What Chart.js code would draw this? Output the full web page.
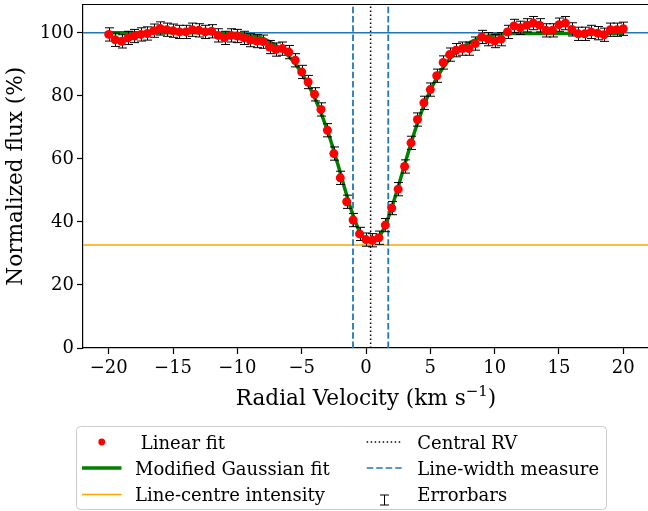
<!DOCTYPE html>
<html>
<head>
<meta charset="utf-8">
<script src="https://cdn.jsdelivr.net/npm/chart.js@4.4.0/dist/chart.umd.min.js"></script>
<style>
  html, body { margin: 0; padding: 0; background: #fff; }
  #wrap { width: 648px; height: 511px; overflow: hidden; position: relative; }
</style>
</head>
<body>
<div id="wrap"><canvas id="chart" width="660" height="511"></canvas></div>
<script>
// --- Line profile data (velocity in km/s, flux in % of continuum) ---
const velocity = [
  -20, -19.5, -19, -18.5, -18, -17.5, -17, -16.5, -16, -15.5,
  -15, -14.5, -14, -13.5, -13, -12.5, -12, -11.5, -11, -10.5,
  -10, -9.5, -9, -8.5, -8, -7.5, -7, -6.5, -6, -5.5,
  -5, -4.5, -4, -3.5, -3, -2.5, -2, -1.5, -1, -0.5,
  0, 0.5, 1, 1.5, 2, 2.5, 3, 3.5, 4, 4.5,
  5, 5.5, 6, 6.5, 7, 7.5, 8, 8.5, 9, 9.5,
  10, 10.5, 11, 11.5, 12, 12.5, 13, 13.5, 14, 14.5,
  15, 15.5, 16, 16.5, 17, 17.5, 18, 18.5, 19, 19.5, 20
];
const flux = [
  99.5, 97.8, 97.3, 98.4, 99.0, 99.5, 99.8, 100.7, 101.4, 101.0,
  100.7, 100.3, 100.3, 101.0, 100.8, 100.3, 100.5, 99.2, 98.4, 99.2,
  99.0, 98.4, 97.7, 97.4, 97.2, 95.5, 94.7, 95.0, 93.9, 91.3,
  87.6, 84.4, 80.5, 75.7, 69.1, 61.7, 54.0, 46.4, 40.6, 36.2,
  34.4, 34.2, 35.0, 39.0, 44.4, 50.4, 57.6, 65.1, 72.5, 77.8,
  82.0, 86.4, 90.6, 93.1, 94.5, 95.0, 95.0, 96.6, 98.7, 98.0,
  97.4, 98.0, 100.3, 102.2, 101.6, 102.4, 103.1, 102.4, 100.8, 100.8,
  102.6, 103.1, 101.1, 99.7, 99.7, 100.3, 99.9, 99.4, 101.0, 101.0, 101.3
];
const fitFlux = [
  100.0, 100.0, 100.0, 100.0, 100.0, 100.0, 100.0, 100.0, 100.0, 100.0,
  100.0, 100.0, 100.0, 100.0, 100.0, 100.0, 99.9, 99.9, 99.9, 99.9,
  99.8, 99.6, 99.3, 98.9, 98.2, 97.2, 96.0, 94.5, 92.6, 90.2,
  87.2, 83.6, 79.5, 74.6, 69.0, 62.6, 55.6, 48.5, 42.0, 37.0,
  34.2, 33.7, 35.2, 38.9, 44.5, 51.1, 58.1, 65.0, 71.3, 76.9,
  81.7, 85.7, 89.0, 91.7, 93.8, 95.5, 96.8, 97.8, 98.5, 99.0,
  99.4, 99.6, 99.8, 99.8, 99.8, 99.8, 99.8, 99.8, 99.8, 99.8,
  99.8, 99.8, 99.8, 99.8, 99.8, 99.8, 99.8, 99.8, 99.8, 99.8, 99.8
];
const fluxErr = 2.1;

const continuum = 100;
const centreIntensity = 32.7;
const centralRV = 0.36;
const widthBounds = [-1.01, 1.73];

const xLimits = [-22, 22];
const yLimits = [0, 109];
const xTicks = [-20, -15, -10, -5, 0, 5, 10, 15, 20];
const yTicks = [0, 20, 40, 60, 80, 100];

const SERIF = "'DejaVu Serif', serif";
const BLUE = '#1f77b4';
const ORANGE = '#ffa500';
const GREEN = '#008000';

function hLine(y) { return [{ x: xLimits[0], y }, { x: xLimits[1], y }]; }
function vLine(x) { return [{ x, y: yLimits[0] }, { x, y: yLimits[1] }]; }

const points = velocity.map((v, i) => ({ x: v, y: flux[i] }));
const fitPoints = velocity.map((v, i) => ({ x: v, y: fitFlux[i] }));

// draws the error bars just before the red points go down
const errorBars = {
  id: 'errorBars',
  beforeDatasetDraw(chart, args) {
    if (args.index !== 6) return;
    const { ctx, scales: { x, y } } = chart;
    ctx.save();
    ctx.strokeStyle = '#000';
    ctx.lineWidth = 1;
    points.forEach(p => {
      const px = Math.round(x.getPixelForValue(p.x)) + 0.5;
      const top = y.getPixelForValue(p.y + fluxErr);
      const bot = y.getPixelForValue(p.y - fluxErr);
      ctx.beginPath();
      ctx.moveTo(px, top); ctx.lineTo(px, bot);
      ctx.moveTo(px - 4.5, top); ctx.lineTo(px + 4.5, top);
      ctx.moveTo(px - 4.5, bot); ctx.lineTo(px + 4.5, bot);
      ctx.stroke();
    });
    ctx.restore();
  }
};

// top spine, x axis title with superscript, and the boxed legend
const frame = {
  id: 'frame',
  afterDraw(chart) {
    const { ctx, chartArea: a } = chart;
    ctx.save();
    ctx.strokeStyle = '#000';
    ctx.lineWidth = 1.2;
    ctx.beginPath();
    ctx.moveTo(a.left, a.top); ctx.lineTo(a.right, a.top);
    ctx.stroke();

    // x title
    const main = 'Radial Velocity (km s', sup = '\u22121', close = ')';
    ctx.fillStyle = '#000';
    ctx.textBaseline = 'alphabetic';
    ctx.font = '21.6px ' + SERIF;
    const wMain = ctx.measureText(main).width;
    const wClose = ctx.measureText(close).width;
    ctx.font = '15px ' + SERIF;
    const wSup = ctx.measureText(sup).width;
    let tx = (a.left + a.right) / 2 - (wMain + wSup + wClose) / 2;
    ctx.font = '21.6px ' + SERIF;
    ctx.fillText(main, tx, 405);
    ctx.font = '15px ' + SERIF;
    ctx.fillText(sup, tx + wMain, 396);
    ctx.font = '21.6px ' + SERIF;
    ctx.fillText(close, tx + wMain + wSup, 405);

    // legend
    const bx = 76.5, by = 426.5, bw = 530, bh = 83;
    ctx.beginPath();
    ctx.roundRect(bx, by, bw, bh, 4);
    ctx.fillStyle = 'rgba(255,255,255,0.8)';
    ctx.fill();
    ctx.strokeStyle = '#cccccc';
    ctx.lineWidth = 1;
    ctx.stroke();

    const rows = [442, 468, 494.5];
    const col1 = [82, 121.5, 135], col2 = [366.7, 401.7, 417.3];
    const seg = (c, y, color, width, dash) => {
      ctx.save();
      ctx.strokeStyle = color; ctx.lineWidth = width; ctx.setLineDash(dash);
      ctx.beginPath(); ctx.moveTo(c[0], y); ctx.lineTo(c[1], y); ctx.stroke();
      ctx.restore();
    };
    // red dot
    ctx.fillStyle = 'red';
    ctx.beginPath(); ctx.arc((col1[0] + col1[1]) / 2, rows[0], 3.4, 0, Math.PI * 2); ctx.fill();
    seg(col1, rows[1], GREEN, 3.5, []);
    seg(col1, rows[2], ORANGE, 1.5, []);
    seg(col2, rows[0], '#000', 1.5, [1.5, 2.5]);
    seg(col2, rows[1], BLUE, 1.5, [6.5, 3]);
    // errorbar glyph
    const ex = 384.5, ey = 500;
    ctx.strokeStyle = '#000'; ctx.lineWidth = 1;
    ctx.beginPath();
    ctx.moveTo(ex, ey - 5); ctx.lineTo(ex, ey + 5);
    ctx.moveTo(ex - 4.5, ey - 5); ctx.lineTo(ex + 4.5, ey - 5);
    ctx.moveTo(ex - 4.5, ey + 5); ctx.lineTo(ex + 4.5, ey + 5);
    ctx.stroke();

    ctx.fillStyle = '#000';
    ctx.font = '18px ' + SERIF;
    const labels1 = [' Linear fit', 'Modified Gaussian fit', 'Line-centre intensity'];
    const labels2 = ['Central RV', 'Line-width measure', 'Errorbars'];
    labels1.forEach((t, i) => ctx.fillText(t, col1[2], rows[i] + 6.6));
    labels2.forEach((t, i) => ctx.fillText(t, col2[2], rows[i] + 6.6));
    ctx.restore();
  }
};

const lineStyle = { pointRadius: 0, showLine: true, fill: false };

new Chart(document.getElementById('chart'), {
  type: 'scatter',
  data: {
    datasets: [
      { ...lineStyle, data: hLine(continuum), borderColor: BLUE, borderWidth: 1.5, order: 9 },
      { ...lineStyle, label: 'Line-centre intensity', data: hLine(centreIntensity), borderColor: ORANGE, borderWidth: 1.5, order: 8 },
      { ...lineStyle, label: 'Central RV', data: vLine(centralRV), borderColor: '#000', borderWidth: 1.5, borderDash: [1.5, 2.5], order: 7 },
      { ...lineStyle, label: 'Line-width measure', data: vLine(widthBounds[0]), borderColor: BLUE, borderWidth: 1.8, borderDash: [6.5, 2.8], order: 6 },
      { ...lineStyle, data: vLine(widthBounds[1]), borderColor: BLUE, borderWidth: 1.8, borderDash: [6.5, 2.8], order: 5 },
      { ...lineStyle, label: 'Modified Gaussian fit', data: fitPoints, borderColor: GREEN, borderWidth: 3.5, cubicInterpolationMode: 'monotone', order: 3 },
      { label: 'Linear fit', data: points, backgroundColor: 'red', borderWidth: 0, pointRadius: 4.5, showLine: false, order: 1 }
    ]
  },
  options: {
    responsive: false,
    animation: false,
    devicePixelRatio: 1,
    layout: { padding: { left: 0, right: 11, top: 4, bottom: 0 } },
    plugins: { legend: { display: false }, tooltip: { enabled: false } },
    scales: {
      x: {
        type: 'linear', min: xLimits[0], max: xLimits[1],
        afterBuildTicks: s => { s.ticks = xTicks.map(v => ({ value: v })); },
        afterFit: s => { s.height = 163; s.paddingLeft = 0; s.paddingRight = 0; },
        ticks: {
          color: '#000', padding: 4, maxRotation: 0,
          font: { family: SERIF, size: 18 },
          callback: v => v < 0 ? '\u2212' + (-v) : String(v)
        },
        grid: { drawOnChartArea: false, drawTicks: true, tickLength: 6, tickColor: '#000', tickWidth: 1.2 },
        border: { display: true, color: '#000', width: 1.2 }
      },
      y: {
        type: 'linear', min: yLimits[0], max: yLimits[1],
        afterBuildTicks: s => { s.ticks = yTicks.map(v => ({ value: v })); },
        afterFit: s => { s.width = 83; s.paddingTop = 0; s.paddingBottom = 0; },
        ticks: { color: '#000', padding: 3, font: { family: SERIF, size: 18 } },
        title: {
          display: true, text: 'Normalized flux (%)', color: '#000',
          font: { family: SERIF, size: 21.6 }, padding: { top: 3.5, bottom: 0 }
        },
        grid: { drawOnChartArea: false, drawTicks: true, tickLength: 6, tickColor: '#000', tickWidth: 1.2 },
        border: { display: true, color: '#000', width: 1.2 }
      }
    }
  },
  plugins: [errorBars, frame]
});
</script>
</body>
</html>
